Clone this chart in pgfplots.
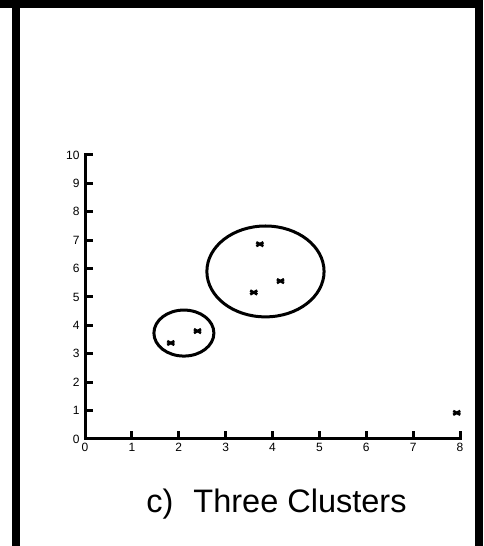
\documentclass[border=0pt]{standalone}
\usepackage{pgfplots}
\pgfplotsset{compat=1.18}
\usepackage{fontspec}
\setmainfont{Liberation Sans}
\begin{document}
\begin{tikzpicture}
% page frame
\path[use as bounding box] (0pt,0pt) rectangle (483pt,546pt);
\fill[black] (0pt,538pt) rectangle (483pt,546pt);
\fill[black] (12pt,0pt) rectangle (20pt,546pt);
\fill[black] (475pt,0pt) rectangle (483pt,546pt);
\begin{axis}[
  at={(85pt,107pt)}, anchor=south west,
  scale only axis, width=375pt, height=284pt,
  xmin=0, xmax=8, ymin=0, ymax=10,
  enlargelimits=false, clip=false,
  axis lines=left, axis line style={-, line width=3pt, line cap=rect},
  xtick={0,...,8}, ytick={0,...,10},
  tick align=inside, major tick length=8pt,
  every tick/.style={black, line width=3pt},
  tick label style={font=\fontsize{12}{14}\selectfont},
  /pgf/number format/assume math mode=true,
  xticklabel style={yshift=-1pt},
  yticklabel style={xshift=-2pt},
]
\addplot[only marks, mark=x, mark size=5pt,
  mark options={line width=2.6pt, yscale=0.55}]
  coordinates {
    (1.83,3.38) (2.40,3.80)
    (3.60,5.16) (3.73,6.86) (4.17,5.56)
    (7.93,0.92)
  };
\draw[line width=3pt] (axis cs:2.11,3.73) ellipse [x radius=0.64, y radius=0.81];
\draw[line width=3pt] (axis cs:3.85,5.90) ellipse [x radius=1.25, y radius=1.60];
\end{axis}
\node[anchor=base, font=\fontsize{32.5}{38}\selectfont] at (276.5pt,33pt) {c)\hspace{20pt}Three Clusters};
\end{tikzpicture}
\end{document}
